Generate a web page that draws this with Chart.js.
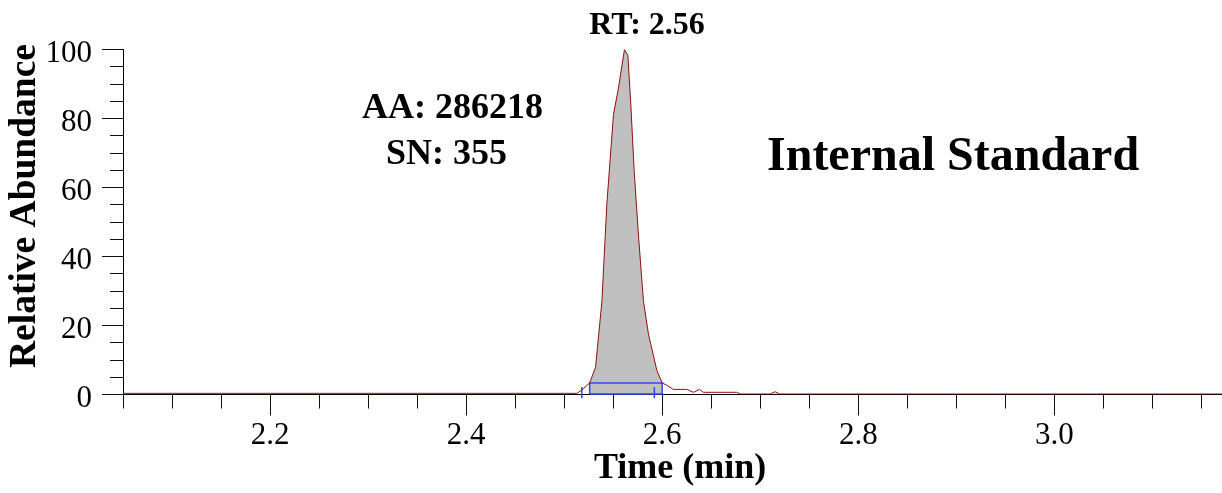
<!DOCTYPE html>
<html>
<head>
<meta charset="utf-8">
<script src="https://cdn.jsdelivr.net/npm/chart.js@4.4.1/dist/chart.umd.min.js"></script>
<style>
  html, body { margin: 0; padding: 0; background: #ffffff; }
  #wrap { width: 1222px; height: 493px; position: relative; }
</style>
</head>
<body>
<div id="wrap"><canvas id="c"></canvas></div>
<script>
// ---- data ----
const times = [2.050, 2.300, 2.513, 2.518, 2.526, 2.532, 2.5385, 2.5436, 2.5503, 2.5554, 2.5615, 2.565, 2.568, 2.5714, 2.5758, 2.5809, 2.586, 2.5945, 2.600, 2.6045, 2.6115, 2.625, 2.6318, 2.638, 2.642, 2.676, 2.6795, 2.710, 2.7151, 2.720, 2.900, 3.171];
const abundance = [0.34, 0.34, 0.34, 1.28, 3.37, 7.9, 27.0, 55.5, 81.2, 88.9, 100, 98.3, 84.0, 64.9, 46.1, 27.0, 17.5, 7.0, 3.37, 2.7, 1.48, 1.48, 0.63, 1.48, 0.63, 0.63, 0.14, 0.14, 0.8, 0.14, 0.14, 0.14];

// integration window (blue box) and peak markers
const integrationStart = 2.526;
const integrationEnd = 2.600;
const boxLow = 0.14;
const boxHigh = 3.37;
const markerTimes = [2.518, 2.592];
const markerLow = -1.1;
const markerHigh = 2.2;

// axes
const xMin = 2.05, xMax = 3.171;
const xMajorTicks = [2.2, 2.4, 2.6, 2.8, 3.0];
const xTickLabels = ['2.2', '2.4', '2.6', '2.8', '3.0'];
const xMinorStep = 0.05;
const yMin = 0, yMax = 100;
const yMajorTicks = [0, 20, 40, 60, 80, 100];
const yTickLabels = ['0', '20', '40', '60', '80', '100'];
const yMinorStep = 5;

// annotation texts
const rtLabel = 'RT: 2.56';
const aaLabel = 'AA: 286218';
const snLabel = 'SN: 355';
const titleLabel = 'Internal Standard';
const xTitle = 'Time (min)';
const yTitle = 'Relative Abundance';

// ---- build datasets ----
const curve = times.map((t, i) => ({ x: t, y: abundance[i] }));
const fillPts = curve.filter(p => p.x >= integrationStart - 1e-9 && p.x <= integrationEnd + 1e-9);
const boxPts = [
  { x: integrationStart, y: boxLow }, { x: integrationStart, y: boxHigh },
  { x: integrationEnd, y: boxHigh }, { x: integrationEnd, y: boxLow },
  { x: integrationStart, y: boxLow }
];
const markerPts = [];
markerTimes.forEach((t, i) => {
  if (i > 0) markerPts.push({ x: t, y: null });
  markerPts.push({ x: t, y: markerHigh }, { x: t, y: markerLow });
});

const SERIF = '"Liberation Serif", "Times New Roman", serif';

const decor = {
  id: 'decor',
  afterDraw(chart) {
    const { ctx, chartArea } = chart;
    const xs = chart.scales.x, ys = chart.scales.y;
    ctx.save();
    ctx.strokeStyle = '#111';
    ctx.lineWidth = 1;
    ctx.beginPath();
    // y ticks
    for (let v = yMin; v <= yMax + 1e-9; v += yMinorStep) {
      const py = Math.floor(ys.getPixelForValue(v)) + 0.5;
      const major = yMajorTicks.some(m => Math.abs(m - v) < 1e-6);
      const len = major ? 21 : 13;
      ctx.moveTo(chartArea.left - len, py);
      ctx.lineTo(chartArea.left + 0.5, py);
    }
    // x ticks
    const nMinor = Math.floor((xMax - xMin) / xMinorStep + 1e-6);
    for (let k = 0; k <= nMinor; k++) {
      const v = xMin + k * xMinorStep;
      const px = Math.floor(xs.getPixelForValue(v)) + 0.5;
      const major = xMajorTicks.some(m => Math.abs(m - v) < 1e-6);
      const len = major ? 21 : 14;
      ctx.moveTo(px, chartArea.bottom);
      ctx.lineTo(px, chartArea.bottom + len);
    }
    ctx.stroke();

    // texts
    ctx.fillStyle = '#000';
    ctx.textBaseline = 'alphabetic';
    ctx.textAlign = 'center';
    ctx.font = 'bold 32px ' + SERIF;
    ctx.fillText(rtLabel, 647, 34);

    ctx.textAlign = 'left';
    ctx.font = 'bold 36px ' + SERIF;
    ctx.fillText(aaLabel, 362, 118);
    ctx.fillText(snLabel, 386, 164);

    ctx.font = 'bold 48px ' + SERIF;
    ctx.fillText(titleLabel, 767, 170);

    ctx.font = 'bold 36px ' + SERIF;
    ctx.fillText(xTitle, 594, 478);

    ctx.save();
    ctx.translate(35, 368);
    ctx.rotate(-Math.PI / 2);
    ctx.font = 'bold 37.5px ' + SERIF;
    ctx.textAlign = 'left';
    ctx.fillText(yTitle, 0, 0);
    ctx.restore();

    ctx.restore();
  }
};

new Chart(document.getElementById('c'), {
  type: 'line',
  data: {
    datasets: [
      {
        data: curve, borderColor: '#8b1010', borderWidth: 1, pointRadius: 0,
        fill: false, tension: 0, order: 0
      },
      {
        data: boxPts, borderColor: '#3344ff', borderWidth: 1.5, pointRadius: 0,
        fill: false, tension: 0, order: 1, clip: false
      },
      {
        data: markerPts, borderColor: '#3344ff', borderWidth: 1.5, pointRadius: 0,
        fill: false, tension: 0, order: 1, clip: false, spanGaps: false
      },
      {
        data: fillPts, borderWidth: 0, borderColor: 'rgba(0,0,0,0)', pointRadius: 0,
        backgroundColor: '#c0c0c0', fill: { value: boxLow }, tension: 0, order: 2
      }
    ]
  },
  options: {
    responsive: true,
    maintainAspectRatio: false,
    animation: false,
    parsing: false,
    events: [],
    layout: { padding: { top: 44, right: 0, left: 0, bottom: 0 } },
    plugins: { legend: { display: false }, tooltip: { enabled: false }, title: { display: false } },
    scales: {
      x: {
        type: 'linear', min: xMin, max: xMax,
        afterFit(s) { s.height = 98.5; },
        afterBuildTicks(s) { s.ticks = xMajorTicks.map(v => ({ value: v })); },
        grid: { display: true, drawOnChartArea: false, drawTicks: false },
        border: { display: true, color: '#000', width: 1 },
        ticks: {
          autoSkip: false, maxRotation: 0, minRotation: 0, padding: 23, color: '#000',
          font: { family: SERIF, size: 31, lineHeight: 1.2 },
          callback: (v, i) => xTickLabels[i]
        }
      },
      y: {
        type: 'linear', min: yMin, max: yMax,
        afterFit(s) { s.width = 123; },
        afterBuildTicks(s) { s.ticks = yMajorTicks.map(v => ({ value: v })); },
        grid: { display: true, drawOnChartArea: false, drawTicks: false },
        border: { display: true, color: '#000', width: 1 },
        ticks: {
          padding: 31, labelOffset: 4, color: '#000',
          font: { family: SERIF, size: 31, lineHeight: 1.2 },
          callback: (v, i) => yTickLabels[i]
        }
      }
    }
  },
  plugins: [decor]
});
</script>
</body>
</html>
